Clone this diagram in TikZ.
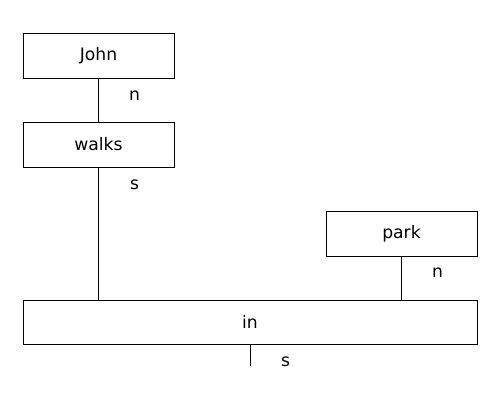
\documentclass[tikz,border=0pt]{standalone}
\usepackage{fontspec}
\setmainfont{DejaVu Sans}
\begin{document}
\begin{tikzpicture}[x=1pt,y=-1pt,
  box/.style={draw,line width=0.8pt,inner sep=0pt,font=\fontsize{17.2}{20}\selectfont},
  lab/.style={font=\fontsize{17.2}{20}\selectfont,inner sep=0pt},
  conn/.style={line width=0.8pt}]
\useasboundingbox (0,0) rectangle (500,400);
\node[box,minimum width=151pt,minimum height=45pt] (john) at (98.5,55.5) {John};
\node[box,minimum width=151pt,minimum height=45pt] (walks) at (98.5,144.5) {walks};
\node[box,minimum width=151pt,minimum height=45pt] (park) at (401.5,233.5) {park};
\node[box,minimum width=454pt,minimum height=44pt] (in) at (250,322) {in};
\coordinate (end) at (250,366);
\draw[conn] (john.south) -- (walks.north);
\draw[conn] (walks.south) -- (walks.south |- in.north);
\draw[conn] (park.south) -- (park.south |- in.north);
\draw[conn] (in.south) -- (end);
\node[lab] (l1) at (134.5,95.5) {n};
\node[lab] (l2) at (134.5,184.5) {s};
\node[lab] (l3) at (437.5,272.5) {n};
\node[lab] (l4) at (285.5,361.5) {s};
\end{tikzpicture}
\end{document}
